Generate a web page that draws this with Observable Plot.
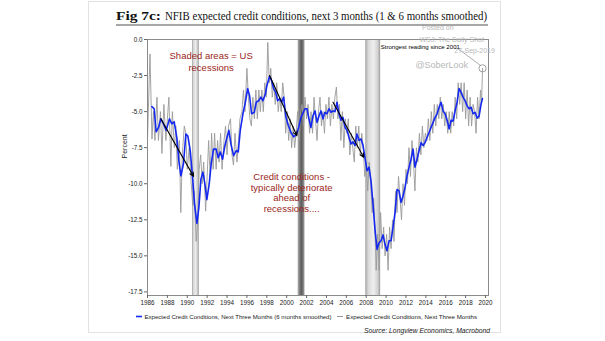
<!DOCTYPE html>
<html>
<head>
<meta charset="utf-8">
<script src="https://cdn.jsdelivr.net/npm/d3@7"></script>
<script src="https://cdn.jsdelivr.net/npm/@observablehq/plot@0.6"></script>
<style>
  html, body { margin: 0; padding: 0; background: #fff; }
  #page { position: relative; width: 605px; height: 341px; overflow: hidden; font-family: "Liberation Sans", Arial, sans-serif; }
  #card { position: absolute; left: 88px; top: 1px; width: 413px; height: 332px; border: 1px solid #e2e2e2; box-sizing: border-box; }
  #chart { position: absolute; left: 0; top: 26px; }
  #overlay { position: absolute; left: 0; top: 0; }
</style>
</head>
<body>
<div id="page">
  <div id="card"></div>
  <div id="chart"></div>
  <svg id="overlay" width="605" height="341">
    <text x="116" y="20" font-family="Liberation Serif, Georgia, serif" font-size="13" font-weight="bold" fill="#111" textLength="45" lengthAdjust="spacingAndGlyphs">Fig 7c:</text>
    <text x="165" y="20" font-family="Liberation Serif, Georgia, serif" font-size="13" fill="#111" textLength="322" lengthAdjust="spacingAndGlyphs">NFIB expected credit conditions, next 3 months (1 &amp; 6 months smoothed)</text>
    <line x1="116" x2="488" y1="25" y2="25" stroke="#8a8a8a" stroke-width="1.5"></line>
    <g id="legend" font-family="Liberation Sans, Arial, sans-serif" font-size="6.2" fill="#222"></g>
  </svg>
</div>
<script>
// ---------- data ----------
const blueYears = [1986.44,1986.67,1986.87,1987.11,1987.34,1987.61,1987.88,1988.21,1988.45,1988.68,1988.95,1989.15,1989.36,1989.62,1989.86,1990.06,1990.30,1990.53,1990.73,1990.97,1991.17,1991.37,1991.57,1991.77,1991.97,1992.21,1992.41,1992.64,1992.91,1993.11,1993.32,1993.55,1993.79,1993.99,1994.19,1994.39,1994.66,1994.93,1995.13,1995.33,1995.60,1995.87,1996.07,1996.27,1996.47,1996.74,1996.94,1997.17,1997.41,1997.61,1997.85,1998.01,1998.28,1998.48,1998.68,1998.89,1999.09,1999.29,1999.49,1999.69,1999.93,2000.16,2000.43,2000.70,2000.97,2001.20,2001.44,2001.64,2001.84,2002.04,2002.24,2002.44,2002.64,2002.85,2003.05,2003.25,2003.45,2003.65,2003.85,2004.05,2004.26,2004.46,2004.66,2004.86,2005.06,2005.26,2005.46,2005.66,2005.87,2006.07,2006.27,2006.47,2006.67,2006.87,2007.07,2007.28,2007.48,2007.68,2007.88,2008.08,2008.28,2008.48,2008.68,2008.89,2009.09,2009.29,2009.49,2009.69,2009.89,2010.09,2010.30,2010.50,2010.70,2010.90,2011.10,2011.30,2011.50,2011.71,2011.91,2012.11,2012.31,2012.51,2012.71,2012.91,2013.11,2013.32,2013.52,2013.72,2013.92,2014.12,2014.32,2014.52,2014.73,2014.93,2015.13,2015.33,2015.53,2015.73,2015.93,2016.14,2016.34,2016.54,2016.74,2016.94,2017.14,2017.34,2017.54,2017.74,2017.95,2018.15,2018.35,2018.55,2018.75,2018.95,2019.16,2019.36,2019.56,2019.69];
const blueValues = [-4.65,-4.8,-6.4,-6.1,-5.5,-5.85,-6.3,-5.5,-5.85,-5.7,-6.8,-8.4,-9.45,-8.6,-6.55,-6.7,-7.7,-9.55,-11.4,-12.75,-11.65,-9.7,-9.2,-10.0,-11.1,-10.0,-8.6,-7.6,-7.6,-8.2,-7.8,-8.3,-7.35,-6.8,-6.3,-7.25,-8.05,-7.7,-7.8,-6.3,-5.15,-4.25,-3.4,-3.9,-5.15,-5.05,-4.35,-4.25,-4.0,-4.25,-3.8,-3.2,-2.55,-2.85,-3.4,-3.65,-4.25,-4.1,-4.35,-4.0,-5.4,-5.95,-6.45,-6.75,-6.6,-6.1,-5.4,-5.1,-4.8,-4.8,-5.5,-6.1,-5.3,-4.95,-5.75,-5.3,-4.95,-5.5,-5.05,-5.15,-4.8,-5.05,-4.95,-5.0,-4.35,-5.15,-5.6,-5.4,-6.1,-6.3,-6.8,-7.25,-7.1,-7.35,-6.55,-7.0,-6.9,-7.35,-8.2,-9.1,-8.85,-9.8,-11.4,-13.25,-14.55,-14.1,-13.95,-13.55,-14.2,-14.65,-13.95,-13.95,-13.0,-12.0,-10.4,-10.5,-11.3,-10.85,-10.25,-9.45,-8.85,-8.3,-7.6,-8.85,-8.3,-7.7,-7.15,-7.35,-7.15,-6.8,-6.45,-6.1,-5.75,-5.4,-5.15,-4.7,-4.35,-4.95,-5.15,-5.6,-6.2,-5.6,-5.65,-4.95,-4.35,-3.4,-3.65,-4.0,-4.25,-4.6,-4.8,-4.7,-5.15,-5.05,-5.45,-5.3,-4.45,-4.1];

const grayYears = [1986.0,1986.25,1986.45,1986.6,1986.75,1986.95,1987.1,1987.3,1987.45,1987.65,1987.85,1988.0,1988.15,1988.35,1988.5,1988.7,1988.85,1989.0,1989.2,1989.35,1989.5,1989.7,1989.85,1990.0,1990.2,1990.4,1990.55,1990.7,1990.9,1991.05,1991.2,1991.35,1991.5,1991.65,1991.85,1992.0,1992.15,1992.3,1992.45,1992.6,1992.75,1992.9,1993.05,1993.2,1993.35,1993.5,1993.7,1993.85,1994.0,1994.15,1994.35,1994.5,1994.65,1994.8,1995.0,1995.15,1995.3,1995.5,1995.65,1995.8,1996.0,1996.15,1996.3,1996.45,1996.6,1996.75,1996.9,1997.05,1997.2,1997.35,1997.5,1997.65,1997.8,1997.95,1998.1,1998.25,1998.4,1998.55,1998.7,1998.85,1999.0,1999.15,1999.3,1999.45,1999.6,1999.75,1999.9,2000.05,2000.2,2000.35,2000.5,2000.65,2000.8,2000.95,2001.1,2001.25,2001.4,2001.55,2001.7,2001.85,2002.0,2002.15,2002.3,2002.45,2002.6,2002.75,2002.9,2003.05,2003.2,2003.35,2003.5,2003.65,2003.8,2003.95,2004.1,2004.25,2004.4,2004.55,2004.7,2004.85,2005.0,2005.15,2005.3,2005.45,2005.6,2005.75,2005.9,2006.05,2006.2,2006.35,2006.5,2006.65,2006.8,2006.95,2007.1,2007.25,2007.4,2007.55,2007.7,2007.85,2008.0,2008.15,2008.3,2008.45,2008.6,2008.75,2008.9,2009.0,2009.15,2009.3,2009.45,2009.6,2009.75,2009.9,2010.05,2010.2,2010.35,2010.5,2010.65,2010.8,2010.95,2011.1,2011.25,2011.4,2011.55,2011.7,2011.85,2012.0,2012.15,2012.3,2012.45,2012.6,2012.75,2012.9,2013.05,2013.2,2013.35,2013.5,2013.65,2013.8,2013.95,2014.1,2014.25,2014.4,2014.55,2014.7,2014.85,2015.0,2015.15,2015.3,2015.45,2015.6,2015.75,2015.9,2016.05,2016.2,2016.35,2016.5,2016.65,2016.8,2016.95,2017.1,2017.25,2017.4,2017.55,2017.7,2017.85,2018.0,2018.15,2018.3,2018.45,2018.6,2018.75,2018.9,2019.05,2019.2,2019.35,2019.5,2019.6,2019.7];
const grayValues = [-6.9,-1.0,-6.9,-5.0,-7.0,-4.0,-7.0,-5.0,-7.9,-4.5,-7.0,-5.5,-4.0,-8.8,-5.0,-7.5,-6.0,-9.0,-7.0,-12.0,-8.0,-6.0,-6.5,-9.0,-7.5,-10.0,-11.5,-10.5,-14.0,-12.5,-9.0,-8.0,-10.0,-8.5,-11.9,-9.5,-7.0,-9.5,-6.5,-9.0,-6.5,-9.0,-7.0,-8.5,-6.5,-9.0,-7.0,-6.0,-8.0,-6.0,-5.5,-8.0,-8.7,-6.5,-8.5,-7.0,-5.5,-5.0,-3.5,-5.0,-2.0,-4.0,-5.5,-6.0,-4.0,-5.5,-3.5,-5.5,-3.5,-5.0,-3.5,-5.0,-3.0,-4.0,-0.2,-3.0,-2.0,-4.0,-3.0,-4.5,-3.0,-5.0,-4.0,-5.0,-3.0,-4.0,-6.5,-5.0,-7.0,-5.5,-7.5,-6.0,-7.5,-6.5,-5.0,-7.0,-5.0,-4.5,-6.0,-4.0,-5.5,-4.5,-6.5,-5.0,-6.5,-4.0,-5.5,-7.0,-5.0,-4.0,-6.0,-5.0,-6.5,-4.5,-5.5,-4.0,-6.0,-4.5,-5.5,-4.0,-3.3,-5.5,-4.5,-7.0,-5.0,-7.5,-5.5,-6.5,-5.5,-8.0,-6.5,-7.5,-8.5,-6.0,-7.5,-6.0,-8.0,-6.5,-7.5,-9.5,-8.5,-10.5,-8.5,-10.0,-12.0,-11.0,-13.5,-16.0,-13.5,-16.0,-12.0,-14.5,-13.0,-15.0,-13.5,-16.0,-13.0,-14.5,-12.5,-14.0,-10.5,-12.0,-9.5,-11.0,-12.5,-10.0,-11.5,-9.0,-10.0,-7.5,-9.5,-7.0,-8.5,-10.5,-7.5,-8.5,-6.5,-8.0,-6.0,-7.5,-6.5,-7.0,-5.5,-7.0,-5.0,-6.5,-4.5,-6.0,-4.5,-5.5,-4.0,-5.5,-4.5,-6.0,-5.0,-6.5,-5.0,-6.5,-5.0,-6.0,-4.0,-5.5,-3.0,-4.5,-3.0,-5.0,-3.0,-5.5,-3.5,-6.0,-4.0,-6.0,-4.5,-5.0,-6.5,-4.0,-5.5,-3.5,-4.5,-2.0];

const recessionStart = [1990.55, 2001.15, 2007.95];
const recessionEnd = [1991.2, 2001.85, 2009.45];
const recessionFill = ["url(#rec1)", "url(#rec2)", "url(#rec3)"];

const xTicks = [1986,1988,1990,1992,1994,1996,1998,2000,2002,2004,2006,2008,2010,2012,2014,2016,2018,2020];
const yTicks = [0,-2.5,-5,-7.5,-10,-12.5,-15,-17.5];

const arrowX1 = [1987.34, 1998.28, 2004.66];
const arrowY1 = [-5.5, -2.5, -4.35];
const arrowX2 = [1990.63, 2001.03, 2007.75];
const arrowY2 = [-9.49, -6.67, -8.17];

const noteText = ["Shaded areas = US", "recessions", "Credit conditions -", "typically deteriorate", "ahead of", "recessions...."];
const noteX = [1992.4, 1992.4, 2000.5, 2000.5, 2000.5, 2000.5];
const noteY = [-1.15, -1.95, -9.56, -10.3, -11.02, -11.72];

const markText = ["Posted on", "WSJ: The Daily Shot", "27-Sep-2019", "@SoberLook"];
const markX = [2015.2, 2016.6, 2018.9, 2015.6];
const markY = [0.8, 0.0, -0.8, -1.8];
const markSize = [7, 7, 7, 9];

const calloutText = "Strongest reading since 2001";
const calloutX = 2009.45, calloutY = -0.5;
const calloutLineX = [2017.2, 2019.5];
const calloutLineY = [-0.62, -1.8];

const legendLabels = ["Expected Credit Conditions, Next Three Months (6 months smoothed)", "Expected Credit Conditions, Next Three Months"];
const sourceText = "Source: Longview Economics, Macrobond";

// ---------- build ----------
const blue = blueYears.map((x, i) => ({x, y: blueValues[i]}));
const gray = grayYears.map((x, i) => ({x, y: grayValues[i]}));
const recessions = recessionStart.map((s, i) => ({s, e: recessionEnd[i], f: recessionFill[i]}));
const arrows = arrowX1.map((x1, i) => ({x1, y1: arrowY1[i], x2: arrowX2[i], y2: arrowY2[i]}));
const notes = noteText.map((t, i) => ({t, x: noteX[i], y: noteY[i]}));
const marks = markText.map((t, i) => ({t, x: markX[i], y: markY[i], s: markSize[i]}));
const lastGray = gray[gray.length - 1];
const BLUE = "#1428f0", RED = "#9a2620";

const chart = Plot.plot({
  width: 605,
  height: 286,
  marginLeft: 147,
  marginRight: 117,
  marginTop: 13,
  marginBottom: 17,
  style: {fontFamily: "Liberation Sans, Arial, sans-serif", fontSize: "6.3px", color: "#222", background: "transparent", overflow: "visible"},
  x: {domain: [1986, 2020.3]},
  y: {domain: [-17.75, 0]},
  marks: [
    Plot.rectX(recessions, {x1: "s", x2: "e", y1: -17.75, y2: 0, fill: d => d.f}),
    Plot.line(gray, {x: "x", y: "y", stroke: "#9a9a9a", strokeWidth: 0.9}),
    Plot.line(blue, {x: "x", y: "y", stroke: BLUE, strokeWidth: 1.6}),
    Plot.arrow(arrows, {x1: "x1", y1: "y1", x2: "x2", y2: "y2", stroke: "#000", strokeWidth: 1.1, headLength: 6, headAngle: 50}),
    Plot.frame({stroke: "#8a8a8a", strokeWidth: 1}),
    Plot.axisX({ticks: xTicks, tickFormat: d => String(d), tickSize: 3, tickPadding: 2, label: null, stroke: "#666"}),
    Plot.axisY({ticks: yTicks, tickFormat: d => d.toFixed(1), tickSize: 3, tickPadding: 2, label: null, stroke: "#666"}),
    Plot.text(["Percent"], {frameAnchor: "left", rotate: -90, dx: -23, dy: -9, fontSize: 7, fill: "#222"}),
    Plot.text(notes, {x: "x", y: "y", text: "t", fill: RED, fontSize: 9.5, textAnchor: "middle"}),
    Plot.text(marks, {x: "x", y: "y", text: "t", fill: "#b8b8b8", fontSize: d => d.s, textAnchor: "middle", clip: false}),
    Plot.text([calloutText], {x: calloutX, y: calloutY, text: d => d, fill: "#000", fontSize: 6.1, textAnchor: "start"}),
    Plot.line(calloutLineX.map((x, i) => ({x, y: calloutLineY[i]})), {x: "x", y: "y", stroke: "#999", strokeWidth: 0.8}),
    Plot.dot([lastGray], {x: "x", y: "y", r: 3.6, stroke: "#999", strokeWidth: 0.9, fill: "#fff", fillOpacity: 0})
  ]
});

// gradients for recession bands
const ns = "http://www.w3.org/2000/svg";
const defs = document.createElementNS(ns, "defs");
const grads = {
  rec1: [[0,"#8e8e8e"],[0.18,"#d6d6d6"],[0.5,"#ececec"],[0.78,"#d2d2d2"],[1,"#8a8a8a"]],
  rec2: [[0,"#b5b5b5"],[0.3,"#7a7a7a"],[0.55,"#5e5e5e"],[0.8,"#7c7c7c"],[1,"#b0b0b0"]],
  rec3: [[0,"#a5a5a5"],[0.2,"#d8d8d8"],[0.55,"#efefef"],[0.85,"#d0d0d0"],[1,"#9a9a9a"]]
};
for (const [id, stops] of Object.entries(grads)) {
  const g = document.createElementNS(ns, "linearGradient");
  g.setAttribute("id", id);
  g.setAttribute("x1", "0"); g.setAttribute("x2", "1"); g.setAttribute("y1", "0"); g.setAttribute("y2", "0");
  for (const [o, c] of stops) {
    const s = document.createElementNS(ns, "stop");
    s.setAttribute("offset", o); s.setAttribute("stop-color", c);
    g.appendChild(s);
  }
  defs.appendChild(g);
}
chart.insertBefore(defs, chart.firstChild);
document.getElementById("chart").appendChild(chart);

// legend + source
const lg = document.getElementById("legend");
function add(tag, attrs, text) {
  const el = document.createElementNS(ns, tag);
  for (const k in attrs) el.setAttribute(k, attrs[k]);
  if (text) el.textContent = text;
  lg.appendChild(el);
  return el;
}
add("line", {x1: 136, x2: 142, y1: 316.5, y2: 316.5, stroke: BLUE, "stroke-width": 1.6});
add("text", {x: 144.5, y: 318.6, textLength: 187, lengthAdjust: "spacingAndGlyphs"}, legendLabels[0]);
add("line", {x1: 337, x2: 343, y1: 316.5, y2: 316.5, stroke: "#9a9a9a", "stroke-width": 1});
add("text", {x: 346, y: 318.6, textLength: 131, lengthAdjust: "spacingAndGlyphs"}, legendLabels[1]);
add("text", {x: 490, y: 333, "text-anchor": "end", "font-style": "italic", "font-size": "6.6", textLength: 126, lengthAdjust: "spacingAndGlyphs"}, sourceText);
</script>
</body>
</html>
